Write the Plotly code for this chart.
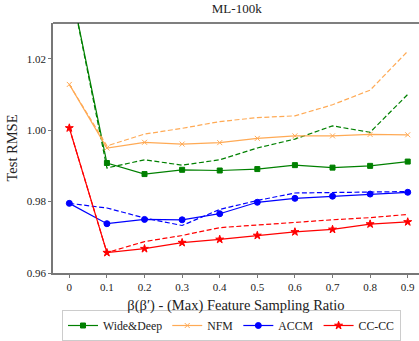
import plotly.graph_objects as go

x = [0, 0.1, 0.2, 0.3, 0.4, 0.5, 0.6, 0.7, 0.8, 0.9]
x_labels = ["0", "0.1", "0.2", "0.3", "0.4", "0.5", "0.6", "0.7", "0.8", "0.9"]

wd_solid = [1.042, 0.9908, 0.9877, 0.9889, 0.9887, 0.9891, 0.9902, 0.9895, 0.9900, 0.9912]
wd_dash = [1.042, 0.9894, 0.9917, 0.9902, 0.9917, 0.9950, 0.9975, 1.0012, 0.9994, 1.0100]
nfm_solid = [1.0128, 0.9950, 0.9966, 0.9961, 0.9965, 0.9977, 0.9984, 0.9984, 0.9988, 0.9987]
nfm_dash = [1.0128, 0.9956, 0.9989, 1.0005, 1.0024, 1.0035, 1.0040, 1.0071, 1.0112, 1.0221]
accm_solid = [0.9795, 0.9738, 0.9750, 0.9749, 0.9766, 0.9798, 0.9809, 0.9815, 0.9821, 0.9826]
accm_dash = [0.9795, 0.9782, 0.9754, 0.9733, 0.9778, 0.9803, 0.9824, 0.9826, 0.9826, 0.9828]
cc_solid = [1.0006, 0.9657, 0.9668, 0.9685, 0.9694, 0.9705, 0.9715, 0.9722, 0.9737, 0.9743]
cc_dash = [1.0006, 0.9657, 0.9688, 0.9705, 0.9727, 0.9735, 0.9743, 0.9749, 0.9755, 0.9764]

names = ["Wide&Deep", "NFM", "ACCM", "CC-CC"]
colors = ["#008000", "#FFAA55", "#0000FF", "#FF0000"]
symbols = ["square", "x-thin", "circle", "star"]
sizes = [5, 5, 6, 6]
solids = [wd_solid, nfm_solid, accm_solid, cc_solid]
dashes = [wd_dash, nfm_dash, accm_dash, cc_dash]

fig = go.Figure()
for name, c, s, sz, ys, yd in zip(names, colors, symbols, sizes, solids, dashes):
    fig.add_trace(go.Scatter(x=x, y=yd, mode="lines",
                             line=dict(color=c, width=1.2, dash="5px,2.5px"),
                             showlegend=False, hoverinfo="skip"))
    fig.add_trace(go.Scatter(x=x, y=ys, mode="lines+markers", name=name,
                             line=dict(color=c, width=1.2),
                             marker=dict(symbol=s, size=sz, color=c, line=dict(color=c, width=1))))

font = "Liberation Serif, DejaVu Serif, serif"
fig.update_layout(
    width=419, height=341,
    margin=dict(l=53, r=0, t=23, b=66),
    plot_bgcolor="white", paper_bgcolor="white",
    font=dict(family=font, size=11, color="#222"),
    title=dict(text="ML-100k", x=0.565, xanchor="center", y=0.988, yanchor="top",
               font=dict(family=font, size=13, color="#222")),
    showlegend=True,
    legend=dict(orientation="h", x=0.0246, xanchor="left", y=-0.15, yanchor="top",
                bordercolor="#cccccc", borderwidth=1, font=dict(size=11.8),
                itemwidth=30, tracegroupgap=0),
)
fig.update_xaxes(range=[-0.0434, 0.93], tickvals=x, ticktext=x_labels, automargin=False,
                 showline=True, linecolor="#777", linewidth=1.5, mirror=False,
                 ticks="outside", ticklen=3, tickcolor="#777", showgrid=False, zeroline=False,
                 tickfont=dict(size=11),
                 title=dict(text="β(β′) - (Max) Feature Sampling Ratio", standoff=8,
                            font=dict(size=14.5)))
fig.update_yaxes(range=[0.96, 1.03], tickvals=[0.96, 0.98, 1.00, 1.02], automargin=False,
                 ticktext=["0.96", "0.98", "1.00", "1.02"],
                 showline=True, linecolor="#777", linewidth=1.5,
                 ticks="outside", ticklen=3, tickcolor="#777", showgrid=False, zeroline=False,
                 tickfont=dict(size=11),
                 title=dict(text="Test RMSE", standoff=6, font=dict(size=14.5)))
fig.add_shape(type="line", xref="paper", yref="paper", x0=0, x1=1, y0=1, y1=1,
              line=dict(color="black", width=1.2))
fig.write_html("out.html", config={"displayModeBar": False},
               post_script="document.body.style.margin='0';document.body.style.overflow='hidden';")
